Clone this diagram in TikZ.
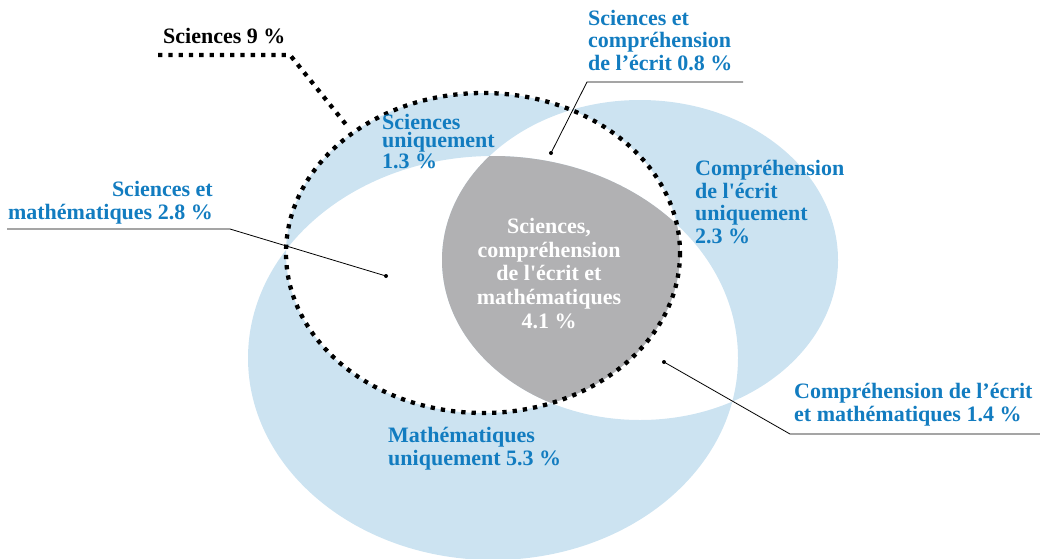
\documentclass[tikz,border=0pt]{standalone}
\usepackage{fontspec}
\setmainfont{Liberation Serif}[Ligatures=TeXOff]
\definecolor{vennblue}{RGB}{204,227,241}
\definecolor{labelblue}{RGB}{18,124,192}
\definecolor{triplegray}{RGB}{177,177,179}
\begin{document}
\begin{tikzpicture}[x=1pt,y=-1pt,
    lbl/.style={inner sep=0pt, font=\bfseries\fontsize{22}{22.5}\selectfont, text=labelblue},
    leader/.style={line width=0.8pt, black},
    sqdots/.style={line width=4.3pt, dash pattern=on 4.3pt off 6pt, black}]
  \useasboundingbox (0,0) rectangle (1040,558);

  % odd counts blue, pairs white
  \fill[vennblue, even odd rule]
    (493,358) ellipse [x radius=245, y radius=202]
    (640,260) ellipse [x radius=198, y radius=160]
    (483,253) ellipse [x radius=197, y radius=160];

  % all three
  \begin{scope}
    \clip (483,253) ellipse [x radius=197, y radius=160];
    \clip (493,358) ellipse [x radius=245, y radius=202];
    \fill[triplegray] (640,260) ellipse [x radius=198, y radius=160];
  \end{scope}

  % science circle
  \draw[sqdots] (483,253) ellipse [x radius=197, y radius=160];

  % labels (anchored on the last baseline)
  \node[lbl, text=black, anchor=base west] (sci) at (163,43) {Sciences 9 \%};
  \node[lbl, align=left, anchor=base west] (scirea) at (588,70) {Sciences et\\compréhension\\de l’écrit 0.8 \%};
  \node[lbl, align=left, anchor=base west, font=\bfseries\fontsize{22}{18}\selectfont] (scionly) at (382,168) {Sciences\\uniquement\\1.3 \%};
  \node[lbl, align=right, anchor=base east] (scimat) at (213,219) {Sciences et\\mathématiques 2.8 \%};
  \node[lbl, align=left, anchor=base west] (reaonly) at (695,243) {Compréhension\\de l'écrit\\uniquement\\2.3 \%};
  \node[lbl, align=center, anchor=base, text=white, font=\bfseries\fontsize{22}{23.6}\selectfont] (all) at (549,328) {Sciences,\\compréhension\\de l'écrit et\\mathématiques\\4.1 \%};
  \node[lbl, align=left, anchor=base west] (reamat) at (794,421) {Compréhension de l’écrit\\et mathématiques 1.4 \%};
  \node[lbl, align=left, anchor=base west] (matonly) at (388,465) {Mathématiques\\uniquement 5.3 \%};

  % leader lines
  \coordinate (sci-a) at (158,55);
  \coordinate (sci-b) at (290,55);
  \coordinate (sci-c) at (348,127);
  \draw[sqdots] (sci-a) -- (sci-b) -- (sci-c);

  \coordinate (scirea-a) at (743,82);
  \coordinate (scirea-b) at (587,82);
  \coordinate (scirea-d) at (551,153);
  \draw[leader] (scirea-a) -- (scirea-b) -- (scirea-d);
  \fill (scirea-d) circle (2);

  \coordinate (scimat-a) at (7,229);
  \coordinate (scimat-b) at (230,229);
  \coordinate (scimat-d) at (386,276);
  \draw[leader] (scimat-a) -- (scimat-b) -- (scimat-d);
  \fill (scimat-d) circle (2);

  \coordinate (reamat-a) at (1040,434);
  \coordinate (reamat-b) at (790,434);
  \coordinate (reamat-d) at (664,362);
  \draw[leader] (reamat-a) -- (reamat-b) -- (reamat-d);
  \fill (reamat-d) circle (2);
\end{tikzpicture}
\end{document}
